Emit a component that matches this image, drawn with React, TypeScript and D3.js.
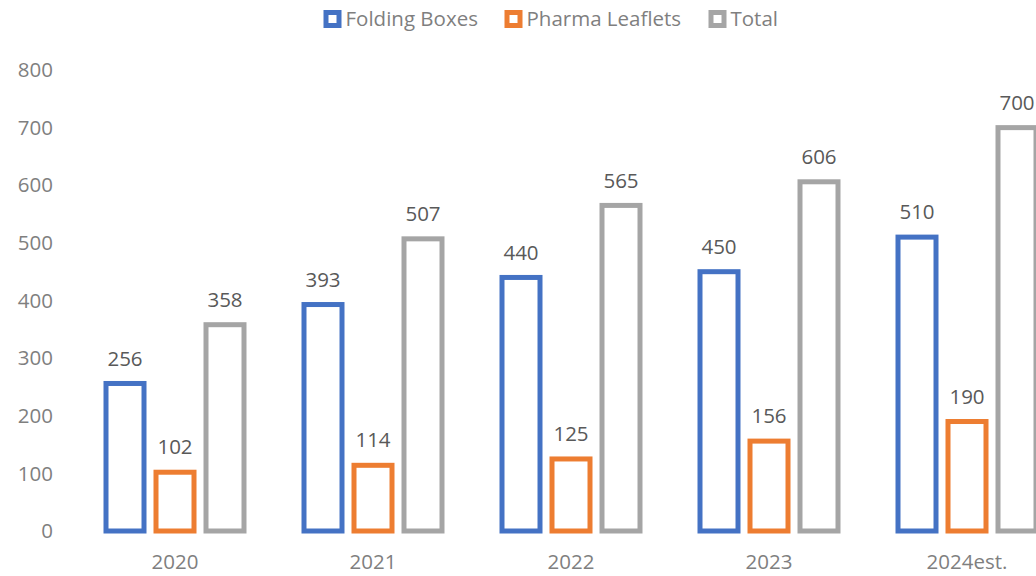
import React from "react";
import * as d3 from "d3";

const categories = ["2020", "2021", "2022", "2023", "2024est."];
const seriesNames = ["Folding Boxes", "Pharma Leaflets", "Total"];
const foldingBoxes = [256, 393, 440, 450, 510];
const pharmaLeaflets = [102, 114, 125, 156, 190];
const total = [358, 507, 565, 606, 700];
const yTicks = [0, 100, 200, 300, 400, 500, 600, 700, 800];
const colors = ["#4472C4", "#ED7D31", "#A5A5A5"];

const W = 1036;
const H = 576;
const FONT = "'Open Sans', sans-serif";
const FS = 20.5;

export default function App() {
  const values = [foldingBoxes, pharmaLeaflets, total];
  const x0 = d3.scaleBand<string>().domain(categories).range([76, 1066]).padding(0);
  const x1 = d3.scaleBand<string>().domain(seriesNames).range([-75, 75]).padding(0);
  const y = d3.scaleLinear().domain([0, 800]).range([531, 70]);
  const barW = 38;
  const sw = 5;

  const legendX = [332.5, 513.5, 717.5];

  return (
    <svg width={W} height={H} style={{ position: "absolute", left: 0, top: 0 }}>
      <rect x={0} y={0} width={W} height={H} fill="#fff" />
      {yTicks.map((t) => (
        <text key={t} x={53} y={y(t)} dy="0.35em" textAnchor="end" fontFamily={FONT} fontSize={FS} fill="#7F7F7F">
          {t}
        </text>
      ))}
      {categories.map((c) => (
        <text key={c} x={x0(c)! + x0.bandwidth() / 2} y={562} dy="0.35em" textAnchor="middle" fontFamily={FONT} fontSize={FS} fill="#7F7F7F">
          {c}
        </text>
      ))}
      {seriesNames.map((s, si) =>
        categories.map((c, ci) => {
          const v = values[si][ci];
          const cx = x0(c)! + x0.bandwidth() / 2 + x1(s)! + x1.bandwidth() / 2;
          const top = y(v);
          return (
            <g key={s + c}>
              <rect x={cx - barW / 2} y={top} width={barW} height={y(0) - top} fill="#fff" stroke={colors[si]} strokeWidth={sw} />
              <text x={cx} y={top - 25} dy="0.35em" textAnchor="middle" fontFamily={FONT} fontSize={FS} fill="#595959">
                {v}
              </text>
            </g>
          );
        })
      )}
      {seriesNames.map((s, i) => (
        <g key={s}>
          <rect x={legendX[i] - 6.5} y={19 - 6.5} width={13} height={13} fill="#fff" stroke={colors[i]} strokeWidth={5} />
          <text x={legendX[i] + 13} y={19} dy="0.35em" fontFamily={FONT} fontSize={FS} fill="#7F7F7F">
            {s}
          </text>
        </g>
      ))}
    </svg>
  );
}
